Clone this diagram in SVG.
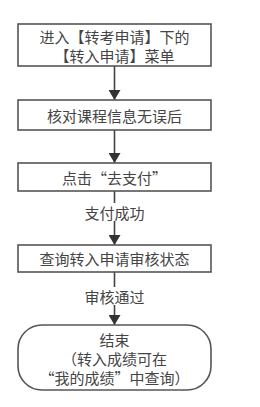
<svg xmlns="http://www.w3.org/2000/svg" width="260" height="407" viewBox="0 0 260 407">
<style>
.box{fill:#fff;stroke:#555;stroke-width:1.6}
.t{font-family:"Noto Sans CJK SC","Liberation Sans",sans-serif;font-size:15px;fill:#444;text-anchor:middle;dominant-baseline:central}
.ln{stroke:#444;stroke-width:1.6;fill:none}
</style>
<defs>
<marker id="ah" viewBox="0 0 10 12" refX="10" refY="6" markerWidth="10" markerHeight="12" markerUnits="userSpaceOnUse" orient="auto">
<path d="M0,0 L10,6 L0,12 Z" fill="#333"/>
</marker>
</defs>
<rect width="260" height="407" fill="#fff"/>
<g id="connectors">
<line class="ln" x1="114.5" y1="66" x2="114.5" y2="100" marker-end="url(#ah)"/>
<line class="ln" x1="114.5" y1="130" x2="114.5" y2="163" marker-end="url(#ah)"/>
<line class="ln" x1="114.5" y1="191" x2="114.5" y2="245" marker-end="url(#ah)"/>
<line class="ln" x1="114.5" y1="272" x2="114.5" y2="325" marker-end="url(#ah)"/>
<rect x="80" y="203" width="70" height="18" fill="#fff"/>
<text class="t" x="114.5" y="212">支付成功</text>
<rect x="80" y="287" width="70" height="18" fill="#fff"/>
<text class="t" x="114.5" y="296">审核通过</text>
</g>
<g id="n1">
<rect class="box" x="18" y="24" width="193" height="42"/>
<text class="t" x="114.5" y="36">进入【转考申请】下的</text>
<text class="t" x="114.5" y="55">【转入申请】菜单</text>
</g>
<g id="n2">
<rect class="box" x="18" y="100" width="193" height="30"/>
<text class="t" x="114.5" y="115">核对课程信息无误后</text>
</g>
<g id="n3">
<rect class="box" x="18" y="163" width="193" height="28"/>
<text class="t" x="114.5" y="177">点击“去支付”</text>
</g>
<g id="n4">
<rect class="box" x="18" y="245" width="193" height="27"/>
<text class="t" x="114.5" y="258.5">查询转入申请审核状态</text>
</g>
<g id="n5">
<rect class="box" x="18" y="325" width="193" height="65" rx="24" ry="24"/>
<text class="t" x="114.5" y="339">结束</text>
<text class="t" x="114.5" y="358">（转入成绩可在</text>
<text class="t" x="114.5" y="377">“我的成绩”中查询）</text>
</g>
</svg>
